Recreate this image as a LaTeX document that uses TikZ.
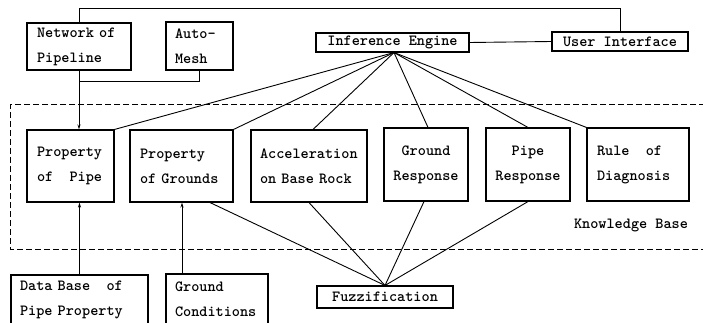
\documentclass[tikz,border=0pt]{standalone}
\usetikzlibrary{calc,arrows.meta}
\newcommand{\dsp}{\hspace*{1.05em}}
\begin{document}
\begin{tikzpicture}[x=1pt,y=-1pt,
  txt/.style={font=\ttfamily\bfseries\fontsize{15.5}{25}\selectfont},
  box/.style={txt,draw,line width=1.1pt,inner sep=0pt,minimum width=#1},
  lbox/.style n args={2}{txt,draw,line width=1.1pt,inner ysep=0pt,inner xsep=#1,text width=#2,align=left},
  conn/.style={line width=0.9pt},
  arr/.style={conn,-{Stealth[length=5pt,width=3pt]}}]
\clip (0,0) rectangle (703,323);
\fill[white] (0,0) rectangle (703,323);
% top boxes
\node[lbox={10pt}{84pt},minimum height=47pt] (net) at (79,46.5) {Network of\\Pipeline};
\node[lbox={9pt}{49pt},minimum height=48pt] (mesh) at (199.5,46) {Auto-\\Mesh};
\node[box=153pt,minimum height=19pt] (ie) at (392.5,42.5) {Inference Engine};
\node[box=136pt,minimum height=19pt] (ui) at (620,41.5) {User Interface};
% knowledge base
\draw[dashed,dash pattern=on 6pt off 3pt,line width=1pt] (705,105) -- (10,105) -- (10,249) -- (705,249);
\node[txt] (kb) at (631,225) {Knowledge Base};
% row boxes
\node[lbox={10pt}{67pt},minimum height=72pt] (pp) at (70.5,166) {Property\\of\dsp Pipe};
\node[lbox={10pt}{83pt},minimum height=72pt] (pg) at (181.5,166) {Property\\of Grounds};
\node[lbox={9pt}{98pt},minimum height=72pt] (acc) at (309,166) {Acceleration\\on Base Rock};
\node[box=84pt,minimum height=73pt,align=center] (gr) at (426,164.5) {Ground\\Response};
\node[box=84pt,minimum height=73pt,align=center] (pr) at (528,164.5) {Pipe\\Response};
\node[lbox={10pt}{82pt},minimum height=73pt] (rd) at (638,164.5) {Rule\dsp of\\Diagnosis};
% bottom boxes
\node[box=136pt,minimum height=22pt] (fz) at (385,297) {Fuzzification};
\node[lbox={9pt}{119pt},minimum height=50pt] (db) at (79.5,300) {Data Base\dsp of\\Pipe Property};
\node[lbox={9pt}{84pt},minimum height=50pt] (gc) at (217,299) {Ground\\Conditions};
% connectors
\draw[conn] (net.north) -- ++(0,-14) -| (ui.north);
\draw[conn] (ie.east) -- (ui.west);
\draw[conn] (mesh.south) -- ++(0,11) -| (net.south);
\draw[arr] (net.south) -- (net.south |- pp.north);
\coordinate (iep) at ($(ie.south)+(1.5,0)$);
\draw[conn] (iep) -- (pp.north east);
\draw[conn] (iep) -- (pg.north east);
\draw[conn] (iep) -- ($(acc.north)+(4,0)$);
\draw[conn] (iep) -- ($(gr.north)+(2,0)$);
\draw[conn] (iep) -- (pr.north);
\draw[conn] (iep) -- (rd.north west);
\draw[conn] ($(pg.south)+(28.5,0)$) -- (fz.north);
\draw[conn] (acc.south) -- (fz.north);
\draw[conn] ($(gr.south)+(-2,0)$) -- (fz.north);
\draw[conn] (pr.south) -- (fz.north);
\draw[arr] (db.north) -- (db.north |- pp.south);
\coordinate (gcp) at ($(gc.north)+(-35,0)$);
\draw[arr] (gcp) -- (gcp |- pg.south);
\end{tikzpicture}
\end{document}
